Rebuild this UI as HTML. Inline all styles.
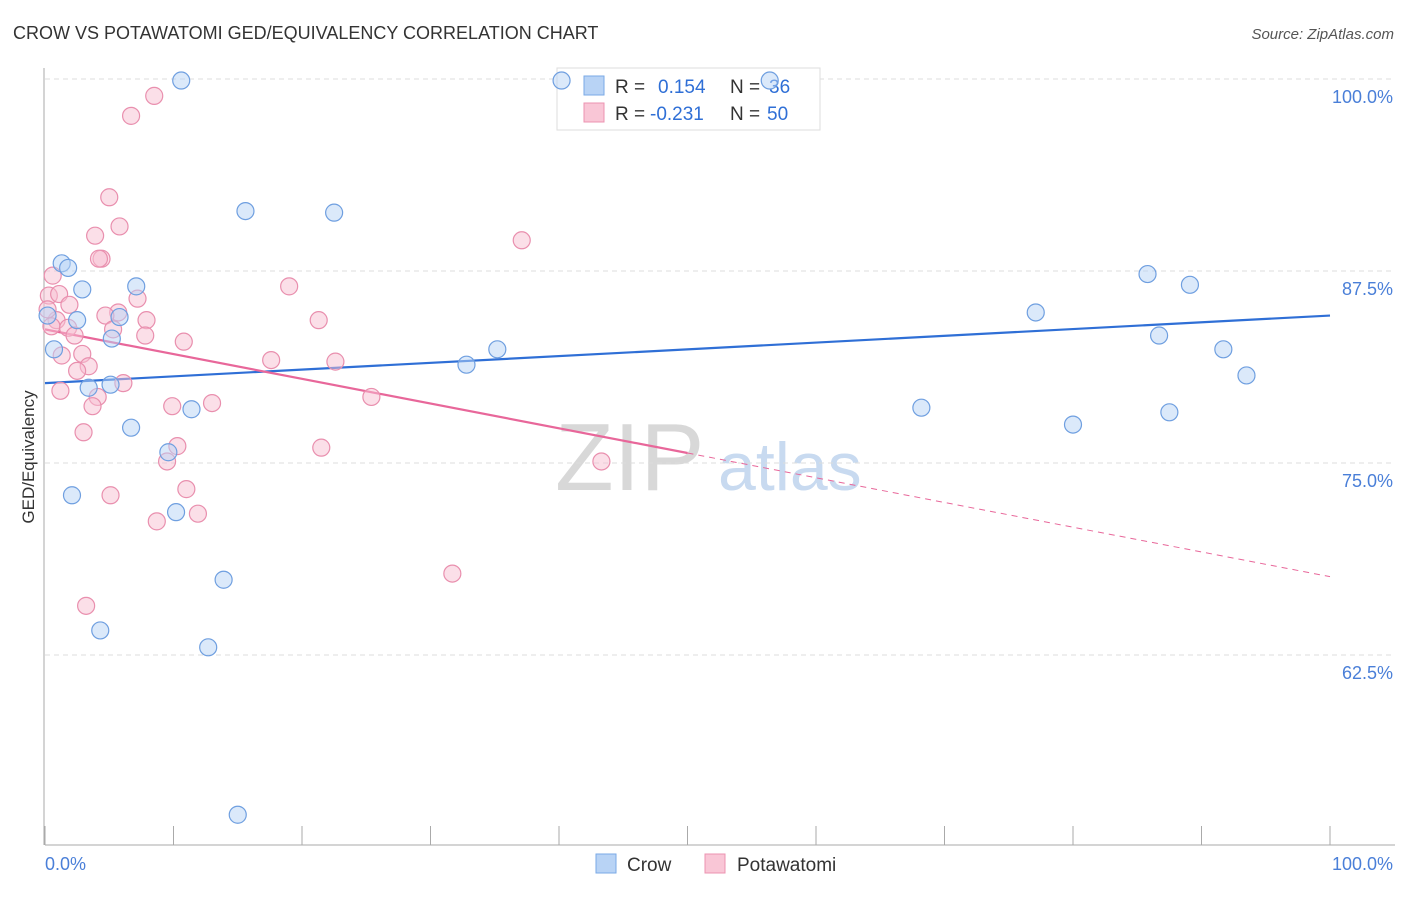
<!DOCTYPE html>
<html><head><meta charset="utf-8"><style>
body{margin:0;background:#fff;font-family:"Liberation Sans",sans-serif;}
svg text{font-family:"Liberation Sans",sans-serif;}
</style></head><body>
<svg id="chart" width="1406" height="892" xmlns="http://www.w3.org/2000/svg">
<text x="13" y="39" font-size="18" fill="#333">CROW VS POTAWATOMI GED/EQUIVALENCY CORRELATION CHART</text>
<text x="1394" y="39" font-size="15" fill="#555" text-anchor="end" font-style="italic">Source: ZipAtlas.com</text>
<g>
<text x="555" y="490" font-size="96" fill="#d8d8d8" font-family="Liberation Serif">ZIP</text>
<text x="718" y="490" font-size="68" fill="#c8daf0">atlas</text>
</g>
<g id="grid"></g>
<g id="axes"></g>
<g>
<rect x="557" y="68" width="263" height="62" fill="#fff" stroke="#ddd"/>
<rect x="584" y="76" width="20" height="19" fill="#b8d3f5" stroke="#7aa9e6"/>
<text x="615" y="93" font-size="19" fill="#333">R = </text><text x="658" y="93" font-size="19" fill="#2f6fd6">0.154</text>
<text x="730" y="93" font-size="19" fill="#333">N = </text><text x="769" y="93" font-size="19" fill="#2f6fd6">36</text>
<rect x="584" y="103" width="20" height="19" fill="#f9c6d6" stroke="#ec93b0"/>
<text x="615" y="120" font-size="19" fill="#333">R = </text><text x="650" y="120" font-size="19" fill="#2f6fd6">-0.231</text>
<text x="730" y="120" font-size="19" fill="#333">N = </text><text x="767" y="120" font-size="19" fill="#2f6fd6">50</text>
</g>
<g id="lines"></g>
<g id="pts"></g>
<g>
<rect x="596" y="854" width="20" height="19" fill="#b8d3f5" stroke="#7aa9e6"/>
<text x="627" y="871" font-size="19" fill="#333">Crow</text>
<rect x="705" y="854" width="20" height="19" fill="#f9c6d6" stroke="#ec93b0"/>
<text x="737" y="871" font-size="19" fill="#333">Potawatomi</text>
</g>
<text transform="translate(34,457) rotate(-90)" font-size="17" fill="#333" text-anchor="middle">GED/Equivalency</text>
<text x="45" y="870" font-size="18" fill="#4a7fd8">0.0%</text>
<text x="1393" y="870" font-size="18" fill="#4a7fd8" text-anchor="end">100.0%</text>
</svg>
<script>
const yTicks=[100,87.5,75,62.5];
const yTickLabels=["100.0%","87.5%","75.0%","62.5%"];
const xTicks=[0,10,20,30,40,50,60,70,80,90,100];
const crowX=[10.6,40.2,56.4,15.6,22.5,1.3,1.8,2.9,7.1,2.5,5.8,0.2,5.2,0.7,35.2,32.8,3.4,5.1,6.7,11.4,9.6,2.1,10.2,13.9,4.3,12.7,15.0,77.1,85.8,89.1,86.7,91.7,93.5,68.2,80.0,87.5];
const crowY=[99.9,99.9,99.9,91.4,91.3,88.0,87.7,86.3,86.5,84.3,84.5,84.6,83.1,82.4,82.4,81.4,79.9,80.1,77.3,78.5,75.7,72.9,71.8,67.4,64.1,63.0,52.1,84.8,87.3,86.6,83.3,82.4,80.7,78.6,77.5,78.3];
const potX=[8.5,6.7,5.0,5.8,3.9,4.4,4.2,37.1,0.6,19.0,0.3,1.1,7.2,1.9,5.7,4.7,7.9,21.3,0.9,0.5,1.8,5.3,7.8,2.3,10.8,1.3,2.9,17.6,22.6,3.4,2.5,6.1,1.2,4.1,13.0,25.4,3.7,9.9,3.0,10.3,21.5,9.5,43.3,11.0,5.1,11.9,8.7,31.7,3.2,0.2];
const potY=[98.9,97.6,92.3,90.4,89.8,88.3,88.3,89.5,87.2,86.5,85.9,86.0,85.7,85.3,84.8,84.6,84.3,84.3,84.3,83.9,83.8,83.7,83.3,83.3,82.9,82.0,82.1,81.7,81.6,81.3,81.0,80.2,79.7,79.3,78.9,79.3,78.7,78.7,77.0,76.1,76.0,75.1,75.1,73.3,72.9,71.7,71.2,67.8,65.7,85.0];
const crowTrend=[80.2,84.6];
const potTrend=[83.7,67.6];
const potSolidEnd=50;

const NS="http://www.w3.org/2000/svg";
const X=v=>45+v/100*1285;
const Y=v=>79+(100-v)/12.5*192;
function mk(tag,attrs,parent){const e=document.createElementNS(NS,tag);for(const k in attrs)e.setAttribute(k,attrs[k]);document.getElementById(parent).appendChild(e);return e;}
yTicks.forEach((t,i)=>{
 const g=mk('line',{x1:45,x2:1395,y1:Y(t),y2:Y(t),stroke:'#ddd','stroke-dasharray':'5,4'},'grid');
 
 
 const l=mk('text',{x:1393,y:Y(t)+24,'font-size':18,fill:'#4a7fd8','text-anchor':'end'},'grid');
 l.textContent=yTickLabels[i];
 
 
});
const ax=mk('line',{x1:45,x2:1395,y1:845,y2:845,stroke:'#aaa'},'axes');


const ay=mk('line',{x1:44,x2:44,y1:68,y2:845,stroke:'#aaa'},'axes');


xTicks.forEach(t=>{
 const tk=mk('line',{x1:X(t),x2:X(t),y1:826,y2:845,stroke:'#aaa'},'axes');
 
 
});
function addPts(xs,ys,fill,stroke,name){
 xs.forEach((x,i)=>{
  const c=mk('circle',{cx:X(x),cy:Y(ys[i]),r:8.5,fill:fill,'fill-opacity':0.5,stroke:stroke,'stroke-width':1.2},'pts');
  
  
 });
}
addPts(potX,potY,'#f7bfd2','#e98fae','potawatomi-point');
addPts(crowX,crowY,'#b8d3f5','#6f9fe0','crow-point');
const bl=mk('line',{x1:X(0),y1:Y(crowTrend[0]),x2:X(100),y2:Y(crowTrend[1]),stroke:'#2f6fd6','stroke-width':2.2},'lines');


const pm=potTrend[0]+(potTrend[1]-potTrend[0])*potSolidEnd/100;
const pl=mk('line',{x1:X(0),y1:Y(potTrend[0]),x2:X(potSolidEnd),y2:Y(pm),stroke:'#e8679a','stroke-width':2.2},'lines');


const pd=mk('line',{x1:X(potSolidEnd),y1:Y(pm),x2:X(100),y2:Y(potTrend[1]),stroke:'#e8679a','stroke-width':1,'stroke-dasharray':'6,5'},'lines');


</script>
</body></html>
